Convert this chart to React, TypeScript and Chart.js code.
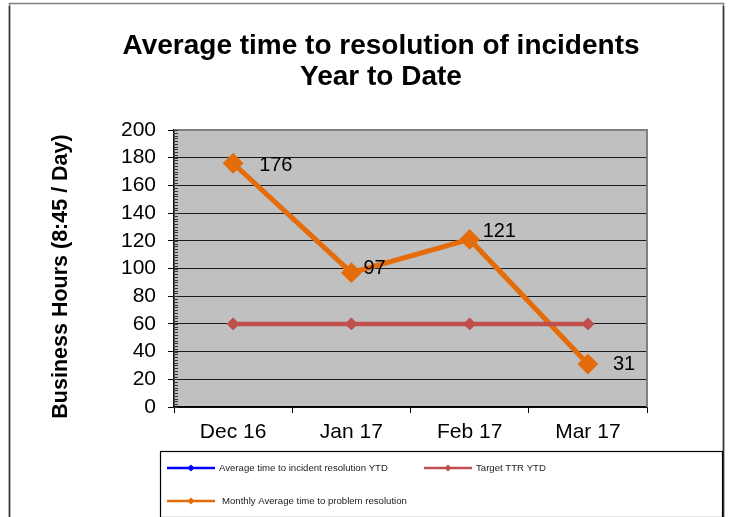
import React, { useEffect, useRef } from "react";
import { Chart, registerables } from "chart.js";

Chart.register(...registerables);

const categories = ["Dec 16", "Jan 17", "Feb 17", "Mar 17"];
const incidentYTD: (number | null)[] = [null, null, null, null];
const targetTTR = [60, 60, 60, 60];
const problemMonthly = [176, 97, 121, 31];
const titleLines = ["Average time to resolution of incidents", "Year to Date"];
const yTitle = "Business Hours (8:45 / Day)";
const seriesNames = [
  "Average time to incident resolution YTD",
  "Target TTR YTD",
  "Monthly Average time to problem resolution",
];

const FONT = "'Liberation Sans', Arial, Helvetica, sans-serif";
const BLUE = "#0000FF";
const RED = "#C0504D";
const ORANGE = "#E46C0A";

// horizontal/vertical nudges for the data labels (style only)
const labelNudge = [
  [26, 2],
  [12, -4],
  [13, -8],
  [25, 0],
];

const decorPlugin = {
  id: "decor",
  beforeDraw(chart: any) {
    const { ctx, chartArea: a, width, height } = chart;
    ctx.save();
    ctx.fillStyle = "#FFFFFF";
    ctx.fillRect(0, 0, width, height);
    ctx.fillStyle = "#C0C0C0";
    ctx.fillRect(a.left, a.top, a.right - a.left, a.bottom - a.top);
    ctx.restore();
  },
  beforeDatasetsDraw(chart: any) {
    const { ctx, chartArea: a, scales } = chart;
    ctx.save();
    // gray plot frame top/right
    ctx.strokeStyle = "#808080";
    ctx.lineWidth = 2;
    ctx.beginPath();
    ctx.moveTo(a.left, a.top);
    ctx.lineTo(a.right, a.top);
    ctx.lineTo(a.right, a.bottom);
    ctx.stroke();
    // minor ticks on y axis
    const y = scales.y;
    ctx.strokeStyle = "#333333";
    ctx.lineWidth = 1;
    ctx.beginPath();
    for (let v = 0; v <= 200; v += 2) {
      const py = Math.round(y.getPixelForValue(v)) + 0.5;
      ctx.moveTo(a.left - 1, py);
      ctx.lineTo(a.left + 4, py);
    }
    ctx.stroke();
    ctx.restore();
  },
  afterDraw(chart: any) {
    const { ctx, chartArea: a } = chart;
    ctx.save();
    // outer frame
    ctx.strokeStyle = "#808080";
    ctx.lineWidth = 1.5;
    ctx.beginPath();
    ctx.moveTo(9.5, 520);
    ctx.lineTo(9.5, 3.5);
    ctx.lineTo(723.5, 3.5);
    ctx.lineTo(723.5, 520);
    ctx.stroke();
    ctx.strokeStyle = "#333333";
    ctx.lineWidth = 1.5;
    ctx.beginPath();
    ctx.moveTo(9.5, 6);
    ctx.lineTo(9.5, 520);
    ctx.moveTo(723.5, 6);
    ctx.lineTo(723.5, 520);
    ctx.stroke();

    // title
    ctx.fillStyle = "#000000";
    ctx.textAlign = "center";
    ctx.textBaseline = "middle";
    ctx.font = `bold 28px ${FONT}`;
    ctx.fillText(titleLines[0], 381, 46);
    ctx.fillText(titleLines[1], 381, 77);

    // y title
    ctx.save();
    ctx.translate(61, (a.top + a.bottom) / 2 + 8);
    ctx.rotate(-Math.PI / 2);
    ctx.font = `bold 21.5px ${FONT}`;
    ctx.fillText(yTitle, 0, 0);
    ctx.restore();

    // data labels
    const meta = chart.getDatasetMeta(2);
    ctx.font = `20px ${FONT}`;
    ctx.textAlign = "left";
    ctx.textBaseline = "middle";
    meta.data.forEach((pt: any, i: number) => {
      const v = problemMonthly[i];
      if (v == null) return;
      const n = labelNudge[i] || [14, 0];
      ctx.fillText(String(v), pt.x + n[0], pt.y + n[1]);
    });

    // legend box
    ctx.strokeStyle = "#000000";
    ctx.lineWidth = 1.2;
    ctx.strokeRect(160.5, 451.5, 562, 66);
    const items = [
      { c: BLUE, x: 167, y: 468, tx: 219 },
      { c: RED, x: 424, y: 468, tx: 476 },
      { c: ORANGE, x: 167, y: 501, tx: 222 },
    ];
    ctx.font = `9.6px ${FONT}`;
    ctx.textBaseline = "middle";
    items.forEach((it, i) => {
      ctx.strokeStyle = it.c;
      ctx.lineWidth = 2.5;
      ctx.beginPath();
      ctx.moveTo(it.x, it.y);
      ctx.lineTo(it.x + 48, it.y);
      ctx.stroke();
      ctx.fillStyle = it.c;
      ctx.beginPath();
      const mx = it.x + 24;
      ctx.moveTo(mx, it.y - 3.5);
      ctx.lineTo(mx + 3.5, it.y);
      ctx.lineTo(mx, it.y + 3.5);
      ctx.lineTo(mx - 3.5, it.y);
      ctx.closePath();
      ctx.fill();
      ctx.fillStyle = "#222222";
      ctx.fillText(seriesNames[i], it.tx, it.y);
    });
    ctx.restore();
  },
};

export default function App() {
  const ref = useRef<HTMLCanvasElement | null>(null);
  useEffect(() => {
    if (!ref.current) return;
    const chart = new Chart(ref.current, {
      type: "line",
      data: {
        labels: categories,
        datasets: [
          {
            label: seriesNames[0],
            data: incidentYTD,
            borderColor: BLUE,
            backgroundColor: BLUE,
            borderWidth: 3,
            pointStyle: "rectRot",
            pointRadius: 4,
          },
          {
            label: seriesNames[1],
            data: targetTTR,
            borderColor: RED,
            backgroundColor: RED,
            borderWidth: 4.5,
            pointStyle: "rectRot",
            pointRadius: 6,
            pointBorderWidth: 1,
          },
          {
            label: seriesNames[2],
            data: problemMonthly,
            borderColor: ORANGE,
            backgroundColor: ORANGE,
            borderWidth: 5,
            pointStyle: "rectRot",
            pointRadius: 9,
            pointBorderWidth: 2,
          },
        ],
      },
      options: {
        responsive: false,
        animation: false,
        devicePixelRatio: 1,
        layout: { padding: { left: 0, top: 130, right: 82, bottom: 0 } },
        plugins: {
          legend: { display: false },
          title: { display: false },
          tooltip: { enabled: false },
        },
        scales: {
          x: {
            type: "category",
            offset: true,
            afterFit: (s: any) => {
              s.height = 110;
            },
            grid: {
              offset: true,
              drawOnChartArea: false,
              color: "#000000",
              tickLength: 6,
              tickColor: "#000000",
            },
            border: { color: "#000000", width: 1.5 },
            ticks: {
              color: "#000000",
              font: { family: FONT, size: 21 },
              padding: 7,
              maxRotation: 0,
              autoSkip: false,
            },
          },
          y: {
            min: 0,
            max: 200,
            afterFit: (s: any) => {
              s.width = 174;
            },
            ticks: {
              stepSize: 20,
              color: "#000000",
              font: { family: FONT, size: 21 },
              padding: 12,
              autoSkip: false,
            },
            grid: {
              color: "#1a1a1a",
              lineWidth: 1,
              tickLength: 6,
              tickColor: "#000000",
            },
            border: { color: "#000000", width: 1.5 },
          },
        },
      },
      plugins: [decorPlugin],
    });
    return () => chart.destroy();
  }, []);
  return (
    <div style={{ position: "fixed", left: 0, top: 0, width: 729, height: 517 }}>
      <canvas ref={ref} width={729} height={517} />
    </div>
  );
}
